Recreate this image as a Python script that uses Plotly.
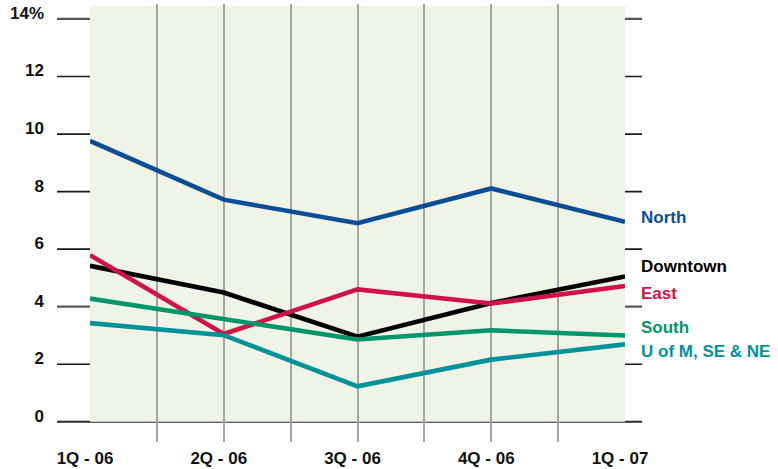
import plotly.graph_objects as go

quarters = ["1Q - 06", "2Q - 06", "3Q - 06", "4Q - 06", "1Q - 07"]
north = [9.76, 7.72, 6.9, 8.11, 6.95]
downtown = [5.42, 4.49, 2.96, 4.13, 5.05]
east = [5.79, 3.05, 4.6, 4.11, 4.72]
south = [4.28, 3.55, 2.86, 3.18, 3.0]
uofm = [3.43, 3.01, 1.23, 2.16, 2.69]

series_names = ["North", "Downtown", "East", "South", "U of M, SE & NE"]
series_values = [north, downtown, east, south, uofm]
series_colors = ["#0b4e96", "#000000", "#d01248", "#00966b", "#00929b"]
label_y = [7.1, 5.39, 4.47, 3.29, 2.45]

y_ticks = [0, 2, 4, 6, 8, 10, 12, 14]
y_ticktext = ["0", "2", "4", "6", "8", "10", "12", "14%"]

FONT = "Liberation Sans, Arial, sans-serif"

xpos = list(range(len(quarters)))

fig = go.Figure()
for name, vals, col in zip(series_names, series_values, series_colors):
    fig.add_trace(go.Scatter(x=xpos, y=vals, mode="lines", name=name,
                             line=dict(color=col, width=4.6)))

shapes = [dict(type="rect", xref="x", yref="y", x0=0, x1=4, y0=0, y1=14.45,
               fillcolor="#eff4e6", line=dict(width=0), layer="below")]
for v in y_ticks:
    col = "#555555" if v in (14, 4) else "#1a1a1a"
    w = 2.2 if v in (14, 4) else 1.7
    if v == 0:
        col, w = "#2a2a2a", 2
    shapes.append(dict(type="line", xref="paper", yref="y", x0=-0.0617, x1=1.032,
                       y0=v, y1=v, line=dict(color=col, width=w), layer="below"))

annotations = []
for name, col, ly in zip(series_names, series_colors, label_y):
    annotations.append(dict(xref="paper", yref="y", x=1.026, y=ly, text=name,
                            showarrow=False, xanchor="left", yanchor="middle",
                            font=dict(family=FONT, size=17, color=col, weight="bold")))

fig.update_layout(
    width=778, height=469,
    margin=dict(l=90, r=153, t=4, b=27),
    paper_bgcolor="white", plot_bgcolor="white",
    showlegend=False,
    shapes=shapes, annotations=annotations,
    xaxis=dict(range=[0, 4], tickvals=[i * 0.5 for i in range(9)],
               ticktext=[quarters[i // 2] if i % 2 == 0 else "" for i in range(9)],
               showgrid=True, gridcolor="#a4a4a4", gridwidth=1.5,
               zeroline=False, showline=False, ticks="", automargin=False,
               ticklabelstandoff=4, ticklabelshift=-5,
               tickfont=dict(family=FONT, size=17, color="#111111", weight="bold")),
    yaxis=dict(range=[-0.703, 14.52], tickvals=y_ticks, ticktext=y_ticktext,
               showgrid=False, zeroline=False, showline=False, ticks="", automargin=False,
               ticklabelstandoff=45, ticklabelshift=-6,
               tickfont=dict(family=FONT, size=17, color="#111111", weight="bold")),
)

fig.write_html("out.html", config={"displayModeBar": False},
               post_script="document.body.style.margin='0px';")
